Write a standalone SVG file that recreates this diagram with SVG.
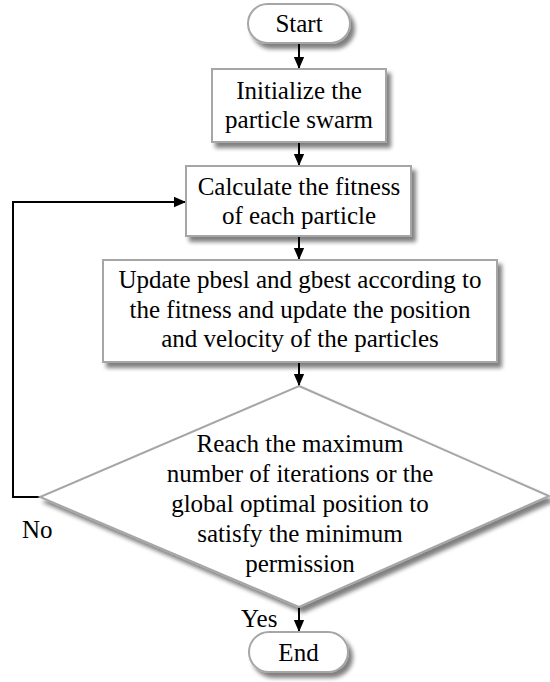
<svg xmlns="http://www.w3.org/2000/svg" width="550" height="682" viewBox="0 0 550 682">
<style>
.shape{fill:#fff;stroke:#a6a6a6;stroke-width:2}
text{font-family:'Liberation Serif','Times New Roman','DejaVu Serif',serif;font-size:25px;fill:#000}
.t{text-anchor:middle}
.c{fill:none;stroke:#000;stroke-width:2}
</style>
<defs>
<filter id="sh" x="-10%" y="-10%" width="130%" height="140%">
<feGaussianBlur in="SourceAlpha" stdDeviation="2"/>
<feOffset dx="4" dy="5" result="b"/>
<feComponentTransfer in="b" result="s"><feFuncA type="linear" slope="0.5"/></feComponentTransfer>
<feMerge><feMergeNode in="s"/><feMergeNode in="SourceGraphic"/></feMerge>
</filter>
<marker id="ah" markerUnits="userSpaceOnUse" markerWidth="12" markerHeight="14" refX="14" refY="6" viewBox="0 0 14 12" orient="auto">
<path d="M0,0 L14,6 L0,12 z" fill="#000"/>
</marker>
</defs>
<rect width="550" height="682" fill="#fff"/>
<g id="connectors">
<line class="c" x1="299" y1="43" x2="299" y2="69" marker-end="url(#ah)"/>
<line class="c" x1="299" y1="142" x2="299" y2="166" marker-end="url(#ah)"/>
<line class="c" x1="299" y1="236" x2="299" y2="260" marker-end="url(#ah)"/>
<line class="c" x1="299" y1="362" x2="299" y2="386" marker-end="url(#ah)"/>
<line class="c" x1="299" y1="607" x2="299" y2="632" marker-end="url(#ah)"/>
<polyline class="c" points="40,497 13,497 13,202 186,202" marker-end="url(#ah)"/>
<text font-family="Liberation Serif, serif" x="22" y="538">No</text>
<text font-family="Liberation Serif, serif" x="241" y="627">Yes</text>
</g>
<g id="start">
<rect class="shape" filter="url(#sh)" x="248" y="4" width="102" height="39" rx="19.5"/>
<text class="t" font-family="Liberation Serif, serif" x="299" y="32">Start</text>
</g>
<g id="init">
<rect class="shape" filter="url(#sh)" x="212" y="69" width="174" height="73"/>
<text class="t" font-family="Liberation Serif, serif" x="299" y="99">Initialize the</text>
<text class="t" font-family="Liberation Serif, serif" x="299" y="128">particle swarm</text>
</g>
<g id="fitness">
<rect class="shape" filter="url(#sh)" x="186" y="166" width="225" height="70"/>
<text class="t" font-family="Liberation Serif, serif" x="299" y="195">Calculate the fitness</text>
<text class="t" font-family="Liberation Serif, serif" x="299" y="224">of each particle</text>
</g>
<g id="update">
<rect class="shape" filter="url(#sh)" x="103" y="260" width="394" height="102"/>
<text class="t" font-family="Liberation Serif, serif" x="300" y="288">Update pbesl and gbest according to</text>
<text class="t" font-family="Liberation Serif, serif" x="300" y="318">the fitness and update the position</text>
<text class="t" font-family="Liberation Serif, serif" x="300" y="347">and velocity of the particles</text>
</g>
<g id="decision">
<polygon class="shape" filter="url(#sh)" points="299,386 549,496 299,607 40,497"/>
<text class="t" font-family="Liberation Serif, serif" x="300" y="452">Reach the maximum</text>
<text class="t" font-family="Liberation Serif, serif" x="300" y="482">number of iterations or the</text>
<text class="t" font-family="Liberation Serif, serif" x="300" y="512">global optimal position to</text>
<text class="t" font-family="Liberation Serif, serif" x="300" y="542">satisfy the minimum</text>
<text class="t" font-family="Liberation Serif, serif" x="300" y="572">permission</text>
</g>
<g id="end">
<rect class="shape" filter="url(#sh)" x="249" y="632" width="99" height="40" rx="20"/>
<text class="t" font-family="Liberation Serif, serif" x="298.5" y="661">End</text>
</g>
</svg>
